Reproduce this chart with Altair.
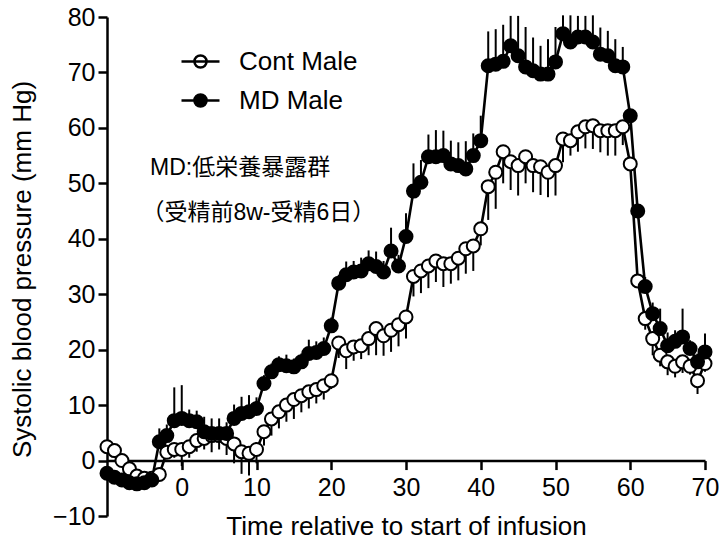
import altair as alt
import pandas as pd

# ---- data ----
times = list(range(-10, 71))

cont_vals = [
    2.5, 1.8, 0.0, -1.5, -2.8, -3.2, -3.2, -2.5, 1.5, 2.0,
    2.0, 2.5, 3.6, 4.0, 4.5, 4.5, 4.0, 3.0, 1.6, 1.3,
    2.0, 5.2, 7.5, 8.8, 10.0, 11.0, 11.7, 12.4, 12.8, 13.5,
    14.4, 21.2, 19.8, 20.5, 20.7, 22.0, 23.8, 22.5, 23.5, 24.5,
    25.9, 33.2, 34.2, 35.1, 36.0, 35.5, 35.5, 36.5, 38.2, 38.7,
    41.8, 49.4, 52.0, 55.7, 53.9, 53.2, 54.8, 53.2, 53.0, 52.0,
    53.2, 58.0, 57.7, 59.3, 60.2, 60.4, 59.5, 59.5, 59.5, 60.2,
    53.5, 32.4, 25.6, 22.0, 19.0, 17.8, 17.0, 17.8, 17.0, 14.4, 17.5,
]
cont_err = [
    0.8, 0.8, 0.8, 0.8, 0.8, 0.8, 0.8, 0.8, 1.0, 1.5,
    3.0, 2.0, 2.0, 2.0, 3.0, 2.5, 3.0, 3.5, 4.0, 4.0,
    2.5, 2.5, 3.0, 3.0, 3.0, 3.5, 3.0, 3.0, 2.5, 2.5,
    1.5, 2.7, 3.3, 2.5, 2.4, 3.0, 4.8, 3.6, 3.9, 3.9,
    3.9, 3.6, 4.0, 4.0, 3.8, 4.2, 3.6, 4.0, 4.5, 4.5,
    3.0, 6.0, 6.6, 5.7, 5.1, 5.4, 4.8, 4.8, 5.1, 4.5,
    5.4, 4.2, 2.7, 3.6, 3.9, 4.2, 3.9, 4.5, 4.5, 3.3,
    1.0, 1.0, 2.0, 3.0, 2.0, 2.4, 2.0, 2.0, 1.5, 2.4, 1.5,
]
md_vals = [
    -2.3, -3.0, -3.5, -4.0, -4.2, -4.0, -3.5, 3.4, 4.5, 7.2,
    7.6, 7.2, 7.0, 5.2, 4.9, 4.9, 4.9, 7.6, 8.5, 8.8,
    9.4, 13.9, 16.0, 17.3, 17.1, 16.9, 17.8, 19.3, 19.5, 20.2,
    24.3, 32.0, 33.5, 34.0, 34.2, 35.5, 35.0, 34.0, 37.8, 35.1,
    40.4, 48.6, 50.2, 54.8, 54.8, 55.0, 53.5, 53.2, 52.6, 55.0,
    57.7, 71.2, 71.5, 72.0, 74.8, 73.0, 71.0, 70.3, 69.7, 69.7,
    71.9, 77.0, 75.5, 76.4, 76.4, 75.5, 73.3, 73.0, 71.2, 71.0,
    62.2, 45.0, 31.4, 26.5, 23.8, 20.7, 21.5, 22.3, 20.2, 17.8, 19.6,
]
md_err = [
    0.8, 0.8, 0.8, 0.8, 0.8, 0.8, 0.8, 2.4, 2.0, 6.0,
    6.0, 2.0, 2.0, 2.7, 2.7, 2.7, 2.0, 2.5, 3.0, 3.0,
    2.0, 1.5, 1.5, 1.5, 2.0, 1.5, 1.5, 2.5, 2.0, 2.0,
    1.5, 1.5, 2.4, 2.0, 2.4, 2.4, 2.7, 2.0, 4.2, 2.0,
    4.2, 5.0, 4.0, 4.0, 4.8, 4.5, 4.2, 4.2, 5.0, 4.0,
    4.5, 6.2, 6.3, 6.6, 5.4, 7.2, 7.2, 6.0, 5.1, 6.3,
    6.3, 3.3, 4.8, 3.8, 3.8, 4.8, 4.8, 4.5, 4.8, 3.6,
    1.2, 1.0, 1.7, 2.0, 3.6, 2.4, 2.0, 5.1, 1.5, 1.5, 3.3,
]

series_names = ["Cont Male", "MD Male"]
x_ticks = [0, 10, 20, 30, 40, 50, 60, 70]
y_ticks = [-10, 0, 10, 20, 30, 40, 50, 60, 70, 80]

note_lines = ["MD:低栄養暴露群", "（受精前8w-受精6日）"]
note_x = [-4.25, -5.4]
note_y = [52.8, 44.7]

# ---- tables ----
rows = []
for t, v, e in zip(times, cont_vals, cont_err):
    rows.append({"t": t, "v": v, "end": v - e, "series": series_names[0], "order": 0})
for t, v, e in zip(times, md_vals, md_err):
    rows.append({"t": t, "v": v, "end": v + e, "series": series_names[1], "order": 1})
df = pd.DataFrame(rows)

notes = pd.DataFrame({"label": note_lines, "t": note_x, "v": note_y})

LATIN = "Liberation Sans"
MIXED = "Liberation Sans, Noto Sans CJK JP"

x_enc = alt.X(
    "t:Q",
    scale=alt.Scale(domain=[-10, 70], nice=False, zero=False),
    axis=alt.Axis(
        values=x_ticks,
        offset=-55.44,
        labelFlush=False,
        labelPadding=6,
        title="Time relative to start of infusion",
        titleX=299,
        titleY=66,
        titleAlign="center",
        titleBaseline="middle",
    ),
)
y_enc = alt.Y(
    "v:Q",
    scale=alt.Scale(domain=[-10, 80], nice=False, zero=False),
    axis=alt.Axis(
        values=y_ticks,
        labelPadding=3,
        title="Systolic blood pressure (mm Hg)",
        titleX=-85,
        titleY=252,
        titleAngle=270,
        titleAlign="center",
        titleBaseline="middle",
    ),
)

legend_symbol = (
    "M-1,0L1,0"
    "M-0.32,0A0.32,0.32,0,1,1,0.32,0A0.32,0.32,0,1,1,-0.32,0Z"
)

base = alt.Chart(df)

rules = base.mark_rule(color="black", strokeWidth=2).encode(
    x=x_enc, y=y_enc, y2="end:Q", detail="series:N"
)
lines = base.mark_line(color="black", strokeWidth=2.6).encode(
    x=x_enc, y=y_enc, detail="series:N", order="t:Q"
)
points = base.mark_point(
    shape="circle", size=169, filled=True, stroke="black", strokeWidth=2, opacity=1
).encode(
    x=x_enc,
    y=y_enc,
    fill=alt.Fill(
        "series:N",
        scale=alt.Scale(domain=series_names, range=["white", "black"]),
        legend=alt.Legend(
            title=None,
            orient="none",
            legendX=73,
            legendY=24,
            symbolType=legend_symbol,
            symbolSize=1444,
            symbolStrokeColor="black",
            symbolStrokeWidth=2.5,
            symbolOpacity=1,
            labelFontSize=26,
            labelFont=LATIN,
            labelColor="black",
            labelOffset=18,
            rowPadding=5,
            padding=0,
        ),
    ),
    order="order:Q",
)

texts = alt.Chart(notes).mark_text(
    align="left", baseline="middle", fontSize=23, font=MIXED, color="black"
).encode(x=x_enc, y=y_enc, text="label:N")

chart = (
    alt.layer(rules, lines, points, texts)
    .properties(
        width=598,
        height=499,
        autosize=alt.AutoSizeParams(type="none"),
        padding={"left": 107, "top": 17, "right": 14, "bottom": 29},
        background="white",
    )
    .configure_view(stroke=None)
    .configure_axis(
        grid=False,
        domainColor="black",
        domainWidth=2.5,
        tickColor="black",
        tickWidth=2.5,
        tickSize=9,
        labelFontSize=25,
        labelFont=LATIN,
        labelColor="black",
        titleFontSize=26,
        titleFont=LATIN,
        titleFontWeight="normal",
        titleColor="black",
    )
)

chart.save("out.html", embed_options={"renderer": "svg", "actions": False})
